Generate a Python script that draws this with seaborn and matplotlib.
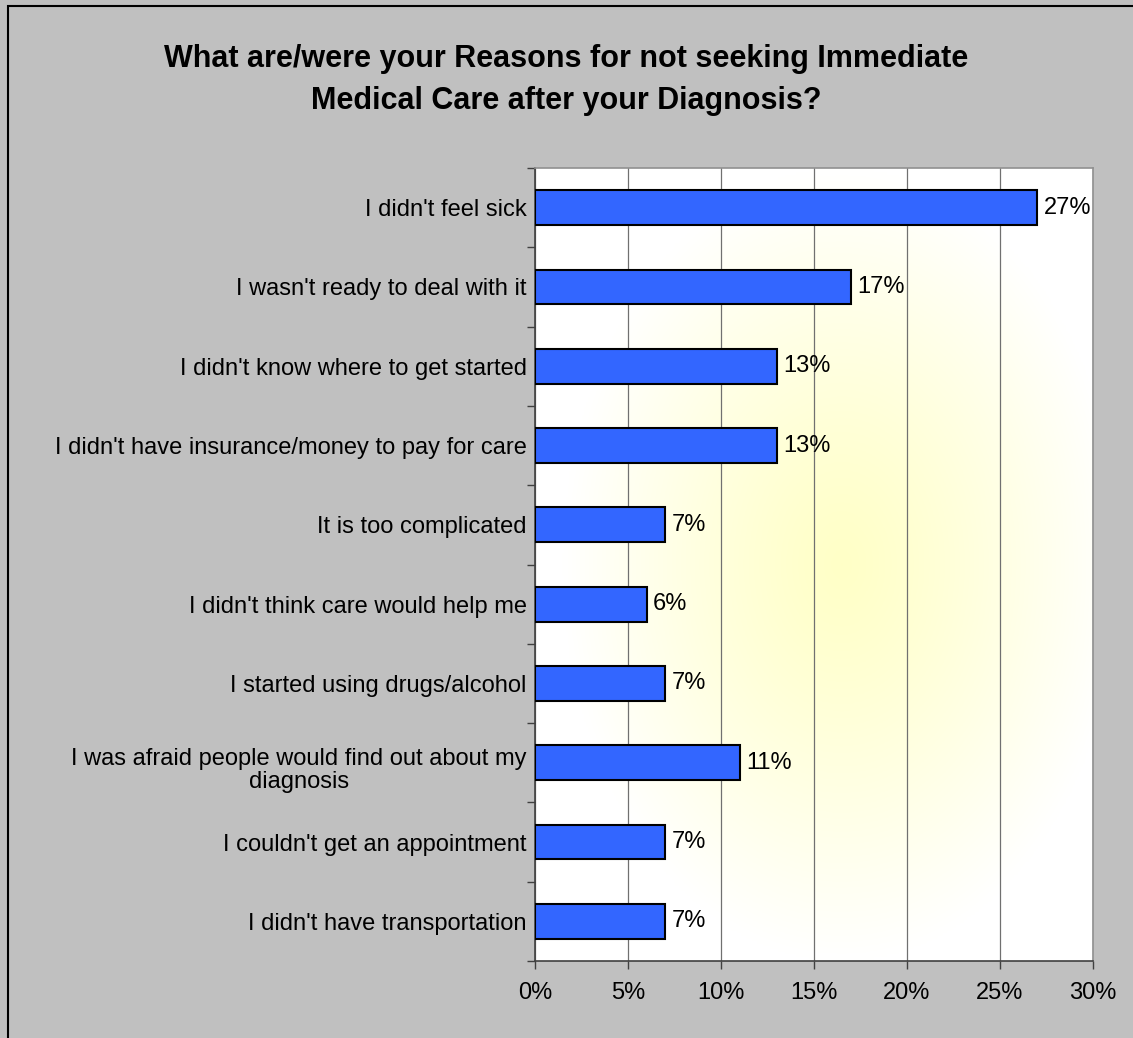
import numpy as np
import pandas as pd
import seaborn as sns
import matplotlib.pyplot as plt
from matplotlib.patches import Rectangle
from matplotlib.transforms import ScaledTranslation
from matplotlib.ticker import FixedLocator, PercentFormatter

# Chart data
reasons = [
    "I didn't feel sick",
    "I wasn't ready to deal with it",
    "I didn't know where to get started",
    "I didn't have insurance/money to pay for care",
    "It is too complicated",
    "I didn't think care would help me",
    "I started using drugs/alcohol",
    "I was afraid people would find out about my\ndiagnosis",
    "I couldn't get an appointment",
    "I didn't have transportation",
]
percents = [27, 17, 13, 13, 7, 6, 7, 11, 7, 7]
x_ticks = [0, 5, 10, 15, 20, 25, 30]
title = "What are/were your Reasons for not seeking Immediate\nMedical Care after your Diagnosis?"

df = pd.DataFrame({"Reason": reasons, "Percent": percents})

sns.set_style("white")
plt.rcParams['font.family'] = ['Liberation Sans', 'DejaVu Sans']
plt.rcParams['text.color'] = 'black'
plt.rcParams['xtick.color'] = 'black'
plt.rcParams['ytick.color'] = 'black'

FS = 17

fig = plt.figure(figsize=(11.33, 10.38), dpi=100, facecolor='#C0C0C0')
ax = fig.add_axes([535 / 1133, 1 - 961 / 1038, 558 / 1133, 793 / 1038])

# Soft yellow radial glow behind the bars
gx, gy = np.meshgrid(np.linspace(-1.1, 0.9, 300), np.linspace(-1, 1, 300))
r = np.clip(np.sqrt(gx ** 2 + gy ** 2), 0, 1)
glow = np.ones((300, 300, 3))
glow[..., 2] = 0.78 + 0.22 * r ** 1.2
ax.imshow(glow, extent=[0, 1, 0, 1], transform=ax.transAxes, aspect='auto', zorder=0)

sns.barplot(data=df, x="Percent", y="Reason", color='#3366FF', saturation=1,
            edgecolor='black', linewidth=1.5, width=0.44, ax=ax, zorder=3)

ax.set_xlim(0, 30)
ax.set_ylim(len(reasons) - 0.5, -0.5)
ax.xaxis.set_major_locator(FixedLocator(x_ticks))
ax.xaxis.set_major_formatter(PercentFormatter(decimals=0))
ax.grid(axis='x', color='#707070', linewidth=0.9, zorder=1)
ax.set_axisbelow(True)
ax.set_xlabel("")
ax.set_ylabel("")

# Category boundary ticks on the y axis, labels centred on bars
ax.yaxis.set_minor_locator(FixedLocator(np.arange(-0.5, len(reasons), 1.0)))
ax.tick_params(axis='y', which='major', length=0, pad=6, labelsize=FS)
ax.tick_params(axis='y', which='minor', length=6, width=1, color='#404040', direction='out', left=True)
ax.tick_params(axis='x', which='major', length=6, width=1, color='#404040', direction='out',
               bottom=True, pad=9, labelsize=FS)
for lbl in ax.get_yticklabels():
    lbl.set_multialignment('center')
    lbl.set_linespacing(1.05)
    if "\n" in lbl.get_text():
        # wrapped label sits a little lower in the reference
        lbl.set_transform(lbl.get_transform() + ScaledTranslation(0, -0.05, fig.dpi_scale_trans))

for side in ['top', 'right']:
    ax.spines[side].set_color('#909090')
    ax.spines[side].set_linewidth(1.2)
for side in ['left', 'bottom']:
    ax.spines[side].set_color('#404040')
    ax.spines[side].set_linewidth(1.2)

# Value labels to the right of each bar
for i, v in enumerate(percents):
    ax.text(v + 0.35, i, f"{v}%", va='center', ha='left', fontsize=FS, zorder=4)

fig.text(0.5, 1 - 80 / 1038, title, ha='center', va='center', fontsize=22,
         fontweight='bold', linespacing=1.55)

# Chart-area frame (only left and top edges show in the reference)
fig.patches.append(Rectangle((8 / 1133, -0.1), 1.2, 1.1 - 6 / 1038, transform=fig.transFigure,
                             fill=False, edgecolor='black', linewidth=1.5, zorder=-1))

fig.savefig("out.png", dpi=100, facecolor=fig.get_facecolor())
